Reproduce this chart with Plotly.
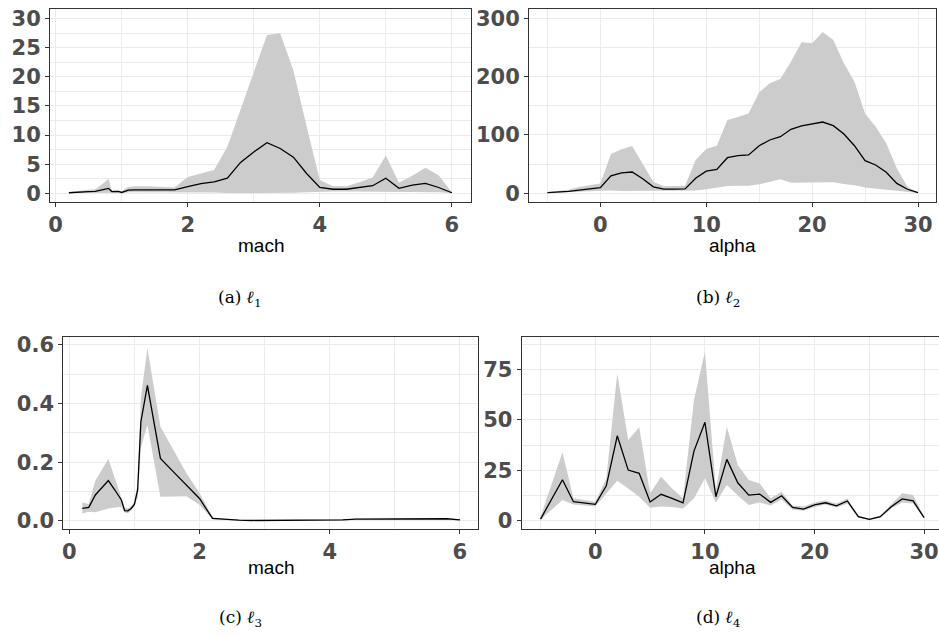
import plotly.graph_objects as go

# ---------------- data ----------------
mach = [0.2, 0.3, 0.4, 0.5, 0.6, 0.7, 0.8, 0.85, 0.9, 0.95, 1.0, 1.05, 1.1, 1.2, 1.4, 1.6, 1.8,
        2.0, 2.2, 2.4, 2.6, 2.8, 3.0, 3.2, 3.4, 3.6, 3.8, 4.0, 4.2, 4.4, 4.6, 4.8, 5.0, 5.2,
        5.4, 5.6, 5.8, 6.0]

l1_mean = [0.1, 0.2, 0.25, 0.3, 0.35, 0.55, 0.85, 0.3, 0.35, 0.35, 0.15, 0.3, 0.55, 0.6, 0.6, 0.6, 0.6,
           1.15, 1.65, 1.95, 2.6, 5.3, 7.1, 8.7, 7.7, 6.2, 3.4, 1.0, 0.7, 0.7, 1.0, 1.3, 2.6, 0.85,
           1.4, 1.7, 1.0, 0.1]
l1_upper = [0.2, 0.4, 0.5, 0.6, 0.7, 1.5, 2.5, 0.5, 0.5, 0.5, 0.3, 0.8, 1.1, 1.2, 1.2, 1.1, 1.0,
            2.8, 3.4, 4.0, 8.0, 14.5, 21.0, 27.2, 27.5, 21.1, 11.5, 2.3, 1.2, 1.2, 1.9, 2.7, 6.5, 1.8,
            3.0, 4.4, 3.1, 0.2]
l1_lower = [0.05, 0.05, 0.05, 0.05, 0.05, 0.05, 0.1, 0.05, 0.05, 0.05, 0.05, 0.1, 0.2, 0.2, 0.2, 0.2, 0.2,
            0.15, 0.15, 0.15, 0.05, 0.05, 0.05, 0.05, 0.05, 0.1, 0.2, 0.3, 0.3, 0.3, 0.3, 0.3, 0.3, 0.3,
            0.3, 0.3, 0.2, 0.05]

l3_mean = [0.042, 0.046, 0.088, 0.112, 0.137, 0.105, 0.071, 0.035, 0.034, 0.042, 0.056, 0.105, 0.338,
           0.462, 0.213, 0.167, 0.12, 0.076, 0.008, 0.004, 0.002, 0.001, 0.001, 0.001, 0.001, 0.001,
           0.002, 0.002, 0.003, 0.006, 0.006, 0.006, 0.005, 0.005, 0.006, 0.007, 0.007, 0.003]
l3_upper = [0.062, 0.057, 0.137, 0.175, 0.212, 0.145, 0.08, 0.045, 0.042, 0.05, 0.065, 0.13, 0.42,
            0.589, 0.321, 0.24, 0.162, 0.095, 0.012, 0.005, 0.003, 0.002, 0.002, 0.002, 0.002, 0.002,
            0.003, 0.003, 0.004, 0.007, 0.007, 0.007, 0.006, 0.006, 0.007, 0.008, 0.008, 0.004]
l3_lower = [0.025, 0.031, 0.029, 0.036, 0.042, 0.045, 0.048, 0.028, 0.026, 0.035, 0.05, 0.08, 0.25,
            0.327, 0.082, 0.083, 0.084, 0.055, 0.005, 0.003, 0.001, 0.0, 0.0, 0.0, 0.0, 0.0,
            0.001, 0.001, 0.002, 0.005, 0.005, 0.005, 0.004, 0.004, 0.005, 0.006, 0.006, 0.002]

alpha = list(range(-5, 31))

l2_mean = [1, 2, 3.4, 5.5, 7.5, 9.6, 30, 35, 36.5, 25, 11, 7, 7, 7.5, 25.7, 38, 41, 61, 64.5, 65.7,
           81.6, 91.4, 97, 109.7, 115.4, 118.8, 122.2, 116, 101.7, 81.6, 55.9, 48.5, 36, 17, 6.9, 1]
l2_upper = [2, 3.5, 6, 11, 14, 17, 67.4, 75.4, 81, 50, 20, 12, 12, 13, 57, 76, 81.6, 125.7, 131, 137,
            173, 188.6, 196, 225.6, 259, 257, 276.5, 262.8, 222.9, 191.3, 137, 114, 85.7, 42.9, 11.4, 1.5]
l2_lower = [0.5, 1, 1.5, 2.5, 3.5, 4.5, 5, 4, 4, 5, 5, 4, 4, 4, 5, 7, 10, 12.5, 13, 13,
            15.4, 20, 24, 18, 18, 18, 19, 19, 16, 14, 10, 8, 7, 5, 2, 0.5]

l4_mean = [0.8, 10.5, 20.3, 9.4, 8.7, 8.1, 17.3, 42.1, 25.1, 23.5, 9.3, 13.1, 11.1, 8.9, 34.5, 48.8,
           11.9, 30.4, 18.8, 12.7, 13.2, 9.1, 12.4, 6.6, 5.8, 7.9, 8.9, 7.4, 9.8, 2.0, 0.7, 2.0, 6.9,
           10.8, 9.8, 1.5]
l4_upper = [2, 18, 33.9, 11.1, 10.2, 9.4, 21, 73, 40, 46.3, 13.6, 21.8, 16, 11.1, 59.8, 83.7,
            15.2, 46.6, 27.6, 20.2, 18.5, 11.1, 14.4, 7.5, 7, 9, 10, 8.5, 11, 2.5, 1, 2.5, 8,
            13.6, 12.8, 2]
l4_lower = [0.5, 5.5, 10.3, 8, 7.5, 7, 13.5, 19.8, 16, 11.9, 6.4, 7, 6.8, 6.1, 11, 21,
            9, 17.7, 12.5, 7.8, 9, 7.5, 10.5, 5.5, 5, 6.8, 8, 6.5, 8.5, 1.5, 0.4, 1.5, 6,
            9, 8.5, 1]

x_titles = ["mach", "alpha", "mach", "alpha"]
captions = ["(a)", "(b)", "(c)", "(d)"]

# ---------------- figure ----------------
W, H = 939, 637
fig = go.Figure()

panels = [
    (mach, l1_mean, l1_lower, l1_upper),
    (alpha, l2_mean, l2_lower, l2_upper),
    (mach, l3_mean, l3_lower, l3_upper),
    (alpha, l4_mean, l4_lower, l4_upper),
]

for i, (xs, m, lo, up) in enumerate(panels):
    suf = "" if i == 0 else str(i + 1)
    xa, ya = "x" + suf, "y" + suf
    fig.add_trace(go.Scatter(x=xs, y=lo, mode="lines", line=dict(width=0, color="#CCCCCC"),
                             xaxis=xa, yaxis=ya, showlegend=False, hoverinfo="skip"))
    fig.add_trace(go.Scatter(x=xs, y=up, mode="lines", line=dict(width=0, color="#CCCCCC"),
                             fill="tonexty", fillcolor="#CCCCCC",
                             xaxis=xa, yaxis=ya, showlegend=False, hoverinfo="skip"))
    fig.add_trace(go.Scatter(x=xs, y=m, mode="lines", line=dict(width=1.3, color="black"),
                             xaxis=xa, yaxis=ya, showlegend=False))

tickfont = dict(family="DejaVu Sans", size=21, color="#4D4D4D", weight="bold")


def axis(domain, rng, dtick, minor, anchor, mirror, fmt=None):
    d = dict(domain=domain, range=rng, tick0=0, dtick=dtick, automargin=False,
             showgrid=True, gridcolor="#EBEBEB", gridwidth=1.1,
             minor=dict(dtick=minor, tick0=0, showgrid=True, gridcolor="#EBEBEB", gridwidth=0.6),
             zeroline=False, showline=True, linecolor="#333333", linewidth=1.1, mirror=mirror,
             ticks="outside", ticklen=4, tickcolor="#333333", tickwidth=1.1,
             tickfont=tickfont, anchor=anchor, layer="above traces")
    if fmt:
        d["tickformat"] = fmt
    return d


def px(x):
    return x / W


def py(y):
    return 1 - y / H


top_y = [py(201.7), py(9.3)]
bot_y = [py(529), py(336.7)]

fig.update_layout(
    width=W, height=H, margin=dict(l=0, r=0, t=0, b=0),
    paper_bgcolor="white", plot_bgcolor="white",
    xaxis=axis([px(50), px(471)], [-0.086, 6.29], 2, 1, "y", True),
    yaxis=axis(top_y, [-1.44, 31.6], 5, 2.5, "x", True),
    xaxis2=axis([px(529), px(936)], [-6.74, 31.7], 10, 5, "y2", True),
    yaxis2=axis(top_y, [-14.4, 315.4], 100, 50, "x2", True),
    xaxis3=axis([px(63.3), px(478)], [-0.092, 6.278], 2, 1, "y3", True),
    yaxis3=axis(bot_y, [-0.028, 0.628], 0.2, 0.1, "x3", True, ".1f"),
    xaxis4=axis([px(521.7), 1.0], [-6.72, 31.36], 10, 5, "y4", True),
    yaxis4=axis(bot_y, [-4.1, 91.2], 25, 12.5, "x4", False),
)

title_pos = [(260.5, 246), (732.5, 246), (270.6, 567), (732, 567)]
cap_pos = [(240, 298), (718, 298), (240, 618), (718, 618)]
annos = []
for i in range(4):
    tx, ty = title_pos[i]
    annos.append(dict(x=px(tx), y=py(ty), xref="paper", yref="paper", text=x_titles[i],
                      showarrow=False, xanchor="center", yanchor="middle",
                      font=dict(family="Liberation Sans", size=19, color="black")))
    cx, cy = cap_pos[i]
    annos.append(dict(x=px(cx), y=py(cy), xref="paper", yref="paper",
                      text=captions[i] + " <b><i>ℓ</i></b><sub>" + str(i + 1) + "</sub>",
                      showarrow=False, xanchor="center", yanchor="middle",
                      font=dict(family="DejaVu Serif", size=17, color="black")))
fig.update_layout(annotations=annos)

fig.write_html("out.html",
               config={"displayModeBar": False},
               post_script="document.body.style.margin='0';document.body.style.padding='0';"
                           "document.body.style.overflow='hidden';")
